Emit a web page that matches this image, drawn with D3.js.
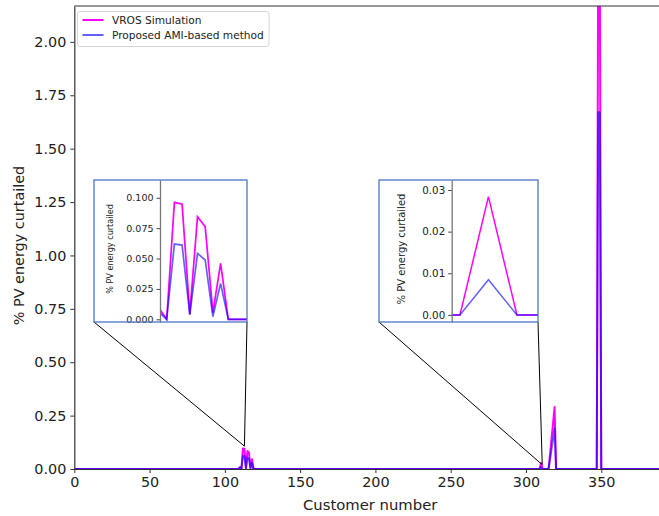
<!DOCTYPE html>
<html>
<head>
<meta charset="utf-8">
<script src="https://cdn.jsdelivr.net/npm/d3@7"></script>
<style>
  html, body { margin: 0; padding: 0; background: #fff; }
  svg { display: block; font-family: "DejaVu Sans", sans-serif; }
</style>
</head>
<body>
<svg id="chart" width="659" height="516"></svg>
<script>
// ---------------- data ----------------
// key points of each series (everything between consecutive zero entries is zero)
const customers = [0, 109, 110, 111, 112, 113, 114, 115, 116, 117, 118, 119, 120, 121,
                   308, 309, 310, 311, 315, 316, 317, 318, 319, 320,
                   347, 348, 349, 350, 393];
const vrosSim   = [0, 0, 0.0092, 0, 0.0962, 0.0948, 0.0045, 0.0844, 0.0762, 0.0055, 0.046, 0, 0, 0,
                   0, 0, 0.0284, 0, 0, 0.07, 0.145, 0.215, 0.29, 0,
                   0, 2.5, 2.45, 0, 0];
const amiMethod = [0, 0, 0.0060, 0, 0.0619, 0.0611, 0.0036, 0.0542, 0.0488, 0.0022, 0.0296, 0, 0, 0,
                   0, 0, 0.00845, 0, 0, 0.045, 0.095, 0.14, 0.19, 0,
                   0, 1.67, 1.67, 0, 0];
const seriesNames = ["VROS Simulation", "Proposed AMI-based method"];
const xTicks = [0, 50, 100, 150, 200, 250, 300, 350];
const yTicks = [0, 0.25, 0.5, 0.75, 1.0, 1.25, 1.5, 1.75, 2.0];
const inset1YTicks = [0, 0.025, 0.05, 0.075, 0.1];
const inset2YTicks = [0, 0.01, 0.02, 0.03];
const inset1XLim = [110.13, 121.43], inset1YLim = [-0.0022, 0.1146];
const inset2XLim = [308.71, 311.74], inset2YLim = [-0.0017, 0.0324];
const inset1Target = [113, 0.107];
const inset2Target = [310.8, 0.02];

// ---------------- styles ----------------
const PINK = "#ff00ff", BLUE = "#0000ff";
const BLUE_OP = 0.62;
const BOX = "#4a76c6";

const svg = d3.select("#chart");
const pts = customers.map((c, i) => ({c, v: vrosSim[i], a: amiMethod[i]}));

// main scales
const x = d3.scaleLinear().domain([0, 393]).range([74.3, 666]);
const y = d3.scaleLinear().domain([0, 2.168]).range([469, 6]);

svg.append("defs").append("clipPath").attr("id", "mainclip")
  .append("rect").attr("x", x(0)).attr("y", y(2.168))
  .attr("width", x(393) - x(0)).attr("height", y(0) - y(2.168) + 2);

const gMain = svg.append("g").attr("clip-path", "url(#mainclip)");
const lineV = d3.line().x(d => x(d.c)).y(d => y(d.v));
const lineA = d3.line().x(d => x(d.c)).y(d => y(d.a));
gMain.append("path").datum(pts).attr("d", lineV)
  .attr("fill", "none").attr("stroke", PINK).attr("stroke-width", 2).attr("stroke-linejoin", "round");
gMain.append("path").datum(pts).attr("d", lineA)
  .attr("fill", "none").attr("stroke", BLUE).attr("stroke-opacity", BLUE_OP)
  .attr("stroke-width", 2).attr("stroke-linejoin", "round");

// axes
const axisColor = "#333";
const gx = svg.append("g").attr("transform", `translate(0,${y(0)})`)
  .call(d3.axisBottom(x).tickValues(xTicks).tickFormat(d3.format("d")).tickSize(4).tickSizeOuter(0).tickPadding(4));
const gy = svg.append("g").attr("transform", `translate(${x(0)},0)`)
  .call(d3.axisLeft(y).tickValues(yTicks).tickFormat(d3.format(".2f")).tickSize(4).tickSizeOuter(0).tickPadding(4));
[gx, gy].forEach(g => {
  g.select(".domain").attr("stroke", axisColor).attr("stroke-width", 1.2);
  g.selectAll(".tick line").attr("stroke", axisColor).attr("stroke-width", 1);
  g.selectAll(".tick text").attr("fill", "#222").style("font-size", "14.4px")
    .style("font-family", "'DejaVu Sans', sans-serif");
});
// top spine
svg.append("line").attr("x1", x(0)).attr("x2", 660).attr("y1", y(2.168)).attr("y2", y(2.168))
  .attr("stroke", axisColor).attr("stroke-width", 1.2);

svg.append("text").attr("x", (x(0) + x(393)) / 2).attr("y", 510)
  .attr("text-anchor", "middle").attr("fill", "#222").style("font-size", "14.8px")
  .text("Customer number");
svg.append("text").attr("transform", `translate(24,${(y(0) + y(2.168)) / 2 + 8}) rotate(-90)`)
  .attr("text-anchor", "middle").attr("fill", "#222").style("font-size", "14.4px")
  .text("% PV energy curtailed");

// ---------------- insets ----------------
function inset(opt) {
  const {box, axLeft, xlim, ylim, ticks, fmt, tickFont, labelFont, labelX, target, lw} = opt;
  // connectors
  const tx = x(target[0]), ty = y(target[1]);
  svg.append("line").attr("x1", box[0]).attr("y1", box[3]).attr("x2", tx).attr("y2", ty)
    .attr("stroke", "#000").attr("stroke-width", 1);
  svg.append("line").attr("x1", box[2]).attr("y1", box[3]).attr("x2", tx).attr("y2", ty)
    .attr("stroke", "#000").attr("stroke-width", 1);

  const g = svg.append("g");
  g.append("rect").attr("x", box[0]).attr("y", box[1])
    .attr("width", box[2] - box[0]).attr("height", box[3] - box[1])
    .attr("fill", "#fff");
  const xi = d3.scaleLinear().domain(xlim).range([axLeft, box[2]]);
  const yi = d3.scaleLinear().domain(ylim).range([box[3], box[1]]);
  const cid = "clip" + Math.round(axLeft);
  svg.select("defs").append("clipPath").attr("id", cid)
    .append("rect").attr("x", axLeft).attr("y", box[1])
    .attr("width", box[2] - axLeft).attr("height", box[3] - box[1]);
  const gl = g.append("g").attr("clip-path", `url(#${cid})`);
  gl.append("path").datum(pts).attr("d", d3.line().x(d => xi(d.c)).y(d => yi(d.v)))
    .attr("fill", "none").attr("stroke", PINK).attr("stroke-width", lw);
  gl.append("path").datum(pts).attr("d", d3.line().x(d => xi(d.c)).y(d => yi(d.a)))
    .attr("fill", "none").attr("stroke", BLUE).attr("stroke-opacity", BLUE_OP).attr("stroke-width", lw);

  const ga = g.append("g").attr("transform", `translate(${axLeft},0)`)
    .call(d3.axisLeft(yi).tickValues(ticks).tickFormat(d3.format(fmt)).tickSize(3.5).tickSizeOuter(0).tickPadding(3));
  ga.select(".domain").attr("stroke", "#777").attr("stroke-width", 1.3);
  ga.selectAll(".tick line").attr("stroke", "#444");
  ga.selectAll(".tick text").attr("fill", "#222").style("font-size", tickFont + "px")
    .style("font-family", "'DejaVu Sans', sans-serif");
  g.append("text").attr("transform", `translate(${labelX},${(box[1] + box[3]) / 2 - 2}) rotate(-90)`)
    .attr("text-anchor", "middle").attr("fill", "#222").style("font-size", labelFont + "px")
    .text("% PV energy curtailed");

  g.append("rect").attr("x", box[0]).attr("y", box[1])
    .attr("width", box[2] - box[0]).attr("height", box[3] - box[1])
    .attr("fill", "none").attr("stroke", BOX).attr("stroke-width", 1.3);
}

inset({box: [94, 180, 247, 322], axLeft: 160, xlim: inset1XLim, ylim: inset1YLim,
       ticks: inset1YTicks, fmt: ".3f", tickFont: 9.5, labelFont: 8.1, labelX: 112.5,
       target: inset1Target, lw: 1.7});
inset({box: [379, 180, 538, 322], axLeft: 451.7, xlim: inset2XLim, ylim: inset2YLim,
       ticks: inset2YTicks, fmt: ".2f", tickFont: 10.3, labelFont: 10, labelX: 404.5,
       target: inset2Target, lw: 1.5});

// ---------------- legend ----------------
const lg = svg.append("g");
lg.append("rect").attr("x", 77.5).attr("y", 11.5).attr("width", 191.5).attr("height", 35)
  .attr("rx", 2.5).attr("fill", "#fff").attr("fill-opacity", 0.85)
  .attr("stroke", "#d6d6d6").attr("stroke-width", 1);
seriesNames.forEach((name, i) => {
  const yy = 20 + i * 15;
  lg.append("line").attr("x1", 82.5).attr("x2", 103.5).attr("y1", yy).attr("y2", yy)
    .attr("stroke", i === 0 ? PINK : BLUE).attr("stroke-opacity", i === 0 ? 1 : BLUE_OP)
    .attr("stroke-width", 2);
  lg.append("text").attr("x", 112).attr("y", yy + 3.8).attr("fill", "#222")
    .style("font-size", "10.6px").text(name);
});
</script>
</body>
</html>
